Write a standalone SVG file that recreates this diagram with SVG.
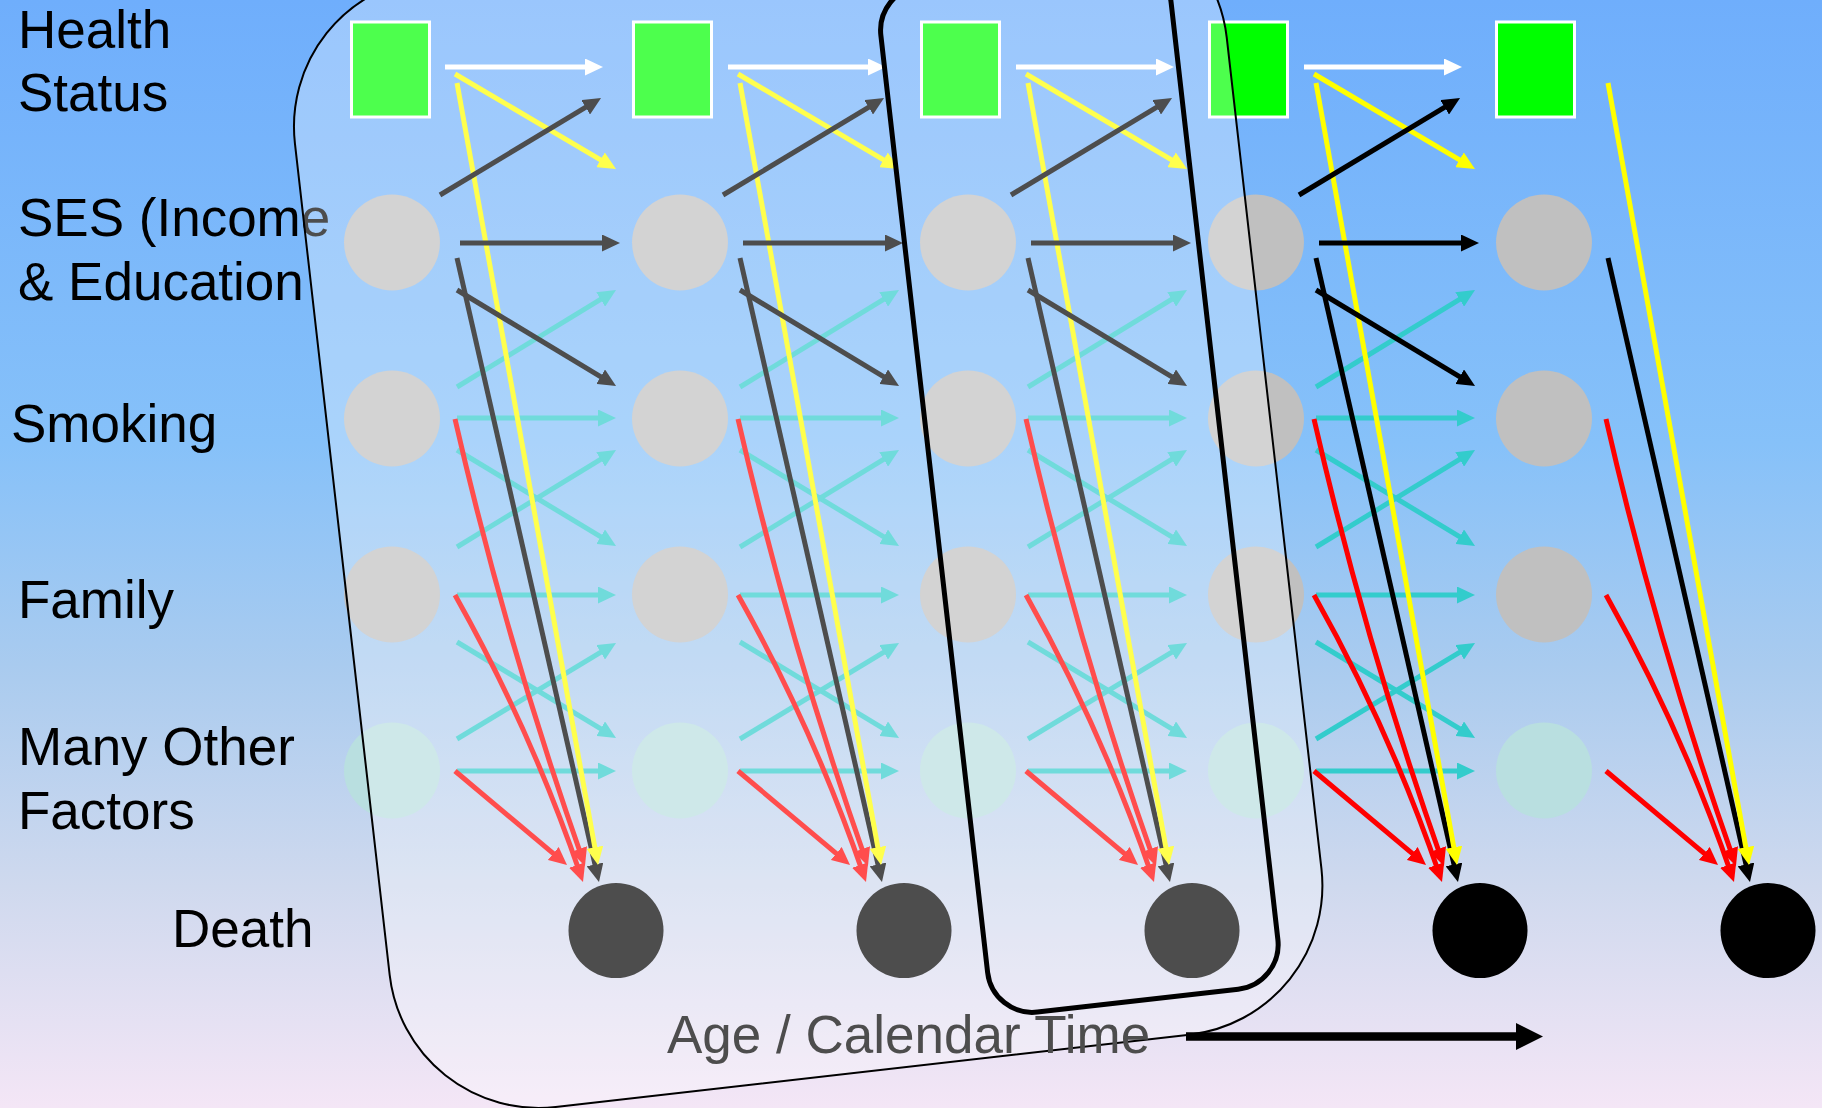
<svg xmlns="http://www.w3.org/2000/svg" xmlns:xlink="http://www.w3.org/1999/xlink" width="1822" height="1108" viewBox="0 0 1822 1108">
  <defs>
    <linearGradient id="sky" x1="0" y1="0" x2="0" y2="1">
      <stop offset="0" stop-color="#6faefc"/>
      <stop offset="0.4" stop-color="#86c1f9"/>
      <stop offset="0.6" stop-color="#a9cbef"/>
      <stop offset="0.8" stop-color="#cfd9ee"/>
      <stop offset="1" stop-color="#f4e6f6"/>
    </linearGradient>
    <marker id="aw" viewBox="0 0 18 17" refX="10" refY="8.5" markerWidth="18" markerHeight="17" markerUnits="userSpaceOnUse" orient="auto"><path d="M0,0L18,8.5L0,17z" fill="#ffffff"/></marker>
    <marker id="ay" viewBox="0 0 18 17" refX="10" refY="8.5" markerWidth="18" markerHeight="17" markerUnits="userSpaceOnUse" orient="auto"><path d="M0,0L18,8.5L0,17z" fill="#ffff00"/></marker>
    <marker id="ak" viewBox="0 0 18 17" refX="10" refY="8.5" markerWidth="18" markerHeight="17" markerUnits="userSpaceOnUse" orient="auto"><path d="M0,0L18,8.5L0,17z" fill="#000000"/></marker>
    <marker id="at" viewBox="0 0 18 17" refX="10" refY="8.5" markerWidth="18" markerHeight="17" markerUnits="userSpaceOnUse" orient="auto"><path d="M0,0L18,8.5L0,17z" fill="#33cccc"/></marker>
    <marker id="ar" viewBox="0 0 18 17" refX="10" refY="8.5" markerWidth="18" markerHeight="17" markerUnits="userSpaceOnUse" orient="auto"><path d="M0,0L18,8.5L0,17z" fill="#ff0000"/></marker>
    <style>
      .lbl { font-family: "Liberation Sans", Arial, sans-serif; font-size: 53px; fill: #000000; }
      .hb { fill: #00ff00; stroke: #ffffff; stroke-width: 3; }
      .fac { fill: #c0c0c0; }
      .oth { fill: #b9dfe0; }
      .dth { fill: #000000; }
      .ln { fill: none; stroke-width: 5; }
      .w { stroke: #ffffff; marker-end: url(#aw); }
      .y { stroke: #ffff00; marker-end: url(#ay); }
      .k { stroke: #000000; marker-end: url(#ak); }
      .t { stroke: #33cccc; marker-end: url(#at); }
      .r { stroke: #ff0000; marker-end: url(#ar); }
    </style>
    <!-- links from every factor of one age step into death -->
    <g id="tail">
      <path class="ln r" d="M455,771L560.9,859.9"/>
      <path class="ln r" d="M455,595Q531,730 580.4,874.4"/>
      <path class="ln r" d="M455,419Q506,642 582.3,858.5"/>
      <path class="ln k" d="M457,258L597.2,874.2"/>
      <path class="ln y" d="M457,83L596.6,857.1"/>
    </g>
    <!-- links from one age step to the next -->
    <g id="step">
      <path class="ln t" d="M457,387L609.2,294.2"/>
      <path class="ln t" d="M457,418L608,418"/>
      <path class="ln t" d="M457,450L609.2,541.9"/>
      <path class="ln t" d="M457,547L609.2,454.2"/>
      <path class="ln t" d="M457,595L608,595"/>
      <path class="ln t" d="M457,642L609.2,733.9"/>
      <path class="ln t" d="M457,739L609.2,647.1"/>
      <path class="ln t" d="M457,771L608,771"/>
      <use xlink:href="#tail"/>
      <path class="ln k" d="M460,243L612,243"/>
      <path class="ln k" d="M457,290L609.2,381.9"/>
      <path class="ln y" d="M455,74L609.1,164.9"/>
      <path class="ln k" d="M440,195L594.2,102.1"/>
      <path class="ln w" d="M445,67L595,67"/>
    </g>
  </defs>

  <rect width="1822" height="1108" fill="url(#sky)"/>

  <g id="row-labels">
    <text class="lbl" x="18" y="48">Health</text>
    <text class="lbl" x="18" y="111">Status</text>
    <text class="lbl" x="18" y="236">SES (Income</text>
    <text class="lbl" x="18" y="300">&amp; Education</text>
    <text class="lbl" x="11" y="442">Smoking</text>
    <text class="lbl" x="18" y="618">Family</text>
    <text class="lbl" x="18" y="765">Many Other</text>
    <text class="lbl" x="18" y="829">Factors</text>
    <text class="lbl" x="172" y="947">Death</text>
  </g>

  <g id="connectors">
    <use xlink:href="#step"/>
    <use xlink:href="#step" x="283"/>
    <use xlink:href="#step" x="571"/>
    <use xlink:href="#step" x="859"/>
    <use xlink:href="#tail" x="1151"/>
  </g>

  <g id="nodes">
    <g id="health-1"><rect class="hb" x="351.5" y="22" width="78" height="95"/></g>
    <g id="health-2"><rect class="hb" x="633.5" y="22" width="78" height="95"/></g>
    <g id="health-3"><rect class="hb" x="921.5" y="22" width="78" height="95"/></g>
    <g id="health-4"><rect class="hb" x="1209.5" y="22" width="78" height="95"/></g>
    <g id="health-5"><rect class="hb" x="1496.5" y="22" width="78" height="95"/></g>

    <g id="ses-1"><circle class="fac" cx="392" cy="242.5" r="48"/></g>
    <g id="ses-2"><circle class="fac" cx="680" cy="242.5" r="48"/></g>
    <g id="ses-3"><circle class="fac" cx="968" cy="242.5" r="48"/></g>
    <g id="ses-4"><circle class="fac" cx="1256" cy="242.5" r="48"/></g>
    <g id="ses-5"><circle class="fac" cx="1544" cy="242.5" r="48"/></g>

    <g id="smoking-1"><circle class="fac" cx="392" cy="418.5" r="48"/></g>
    <g id="smoking-2"><circle class="fac" cx="680" cy="418.5" r="48"/></g>
    <g id="smoking-3"><circle class="fac" cx="968" cy="418.5" r="48"/></g>
    <g id="smoking-4"><circle class="fac" cx="1256" cy="418.5" r="48"/></g>
    <g id="smoking-5"><circle class="fac" cx="1544" cy="418.5" r="48"/></g>

    <g id="family-1"><circle class="fac" cx="392" cy="594.5" r="48"/></g>
    <g id="family-2"><circle class="fac" cx="680" cy="594.5" r="48"/></g>
    <g id="family-3"><circle class="fac" cx="968" cy="594.5" r="48"/></g>
    <g id="family-4"><circle class="fac" cx="1256" cy="594.5" r="48"/></g>
    <g id="family-5"><circle class="fac" cx="1544" cy="594.5" r="48"/></g>

    <g id="other-1"><circle class="oth" cx="392" cy="770.5" r="48"/></g>
    <g id="other-2"><circle class="oth" cx="680" cy="770.5" r="48"/></g>
    <g id="other-3"><circle class="oth" cx="968" cy="770.5" r="48"/></g>
    <g id="other-4"><circle class="oth" cx="1256" cy="770.5" r="48"/></g>
    <g id="other-5"><circle class="oth" cx="1544" cy="770.5" r="48"/></g>

    <g id="death-1"><circle class="dth" cx="616" cy="930.5" r="47.5"/></g>
    <g id="death-2"><circle class="dth" cx="904" cy="930.5" r="47.5"/></g>
    <g id="death-3"><circle class="dth" cx="1192" cy="930.5" r="47.5"/></g>
    <g id="death-4"><circle class="dth" cx="1480" cy="930.5" r="47.5"/></g>
    <g id="death-5"><circle class="dth" cx="1768" cy="930.5" r="47.5"/></g>
  </g>

  <!-- translucent window spanning the first steps -->
  <g id="window-wide">
    <rect x="276.8" y="26" width="937.8" height="1136.7" rx="150" ry="150" transform="rotate(-6.5)" fill="#ffffff" fill-opacity="0.3" stroke="#000000" stroke-width="2"/>
  </g>
  <!-- bold frame around a single step -->
  <g id="window-step">
    <rect x="871.2" y="90" width="292.1" height="1033" rx="45" ry="45" transform="rotate(-6.5)" fill="none" stroke="#000000" stroke-width="5"/>
  </g>

  <g id="time-axis">
    <text x="667" y="1053" font-family="'Liberation Sans', Arial, sans-serif" font-size="53" fill="#4d4d4d">Age / Calendar Time</text>
    <path d="M1186,1036.5H1518" stroke="#000000" stroke-width="8.4" fill="none"/>
    <path d="M1516,1023L1543,1036.5L1516,1050z" fill="#000000"/>
  </g>
</svg>
